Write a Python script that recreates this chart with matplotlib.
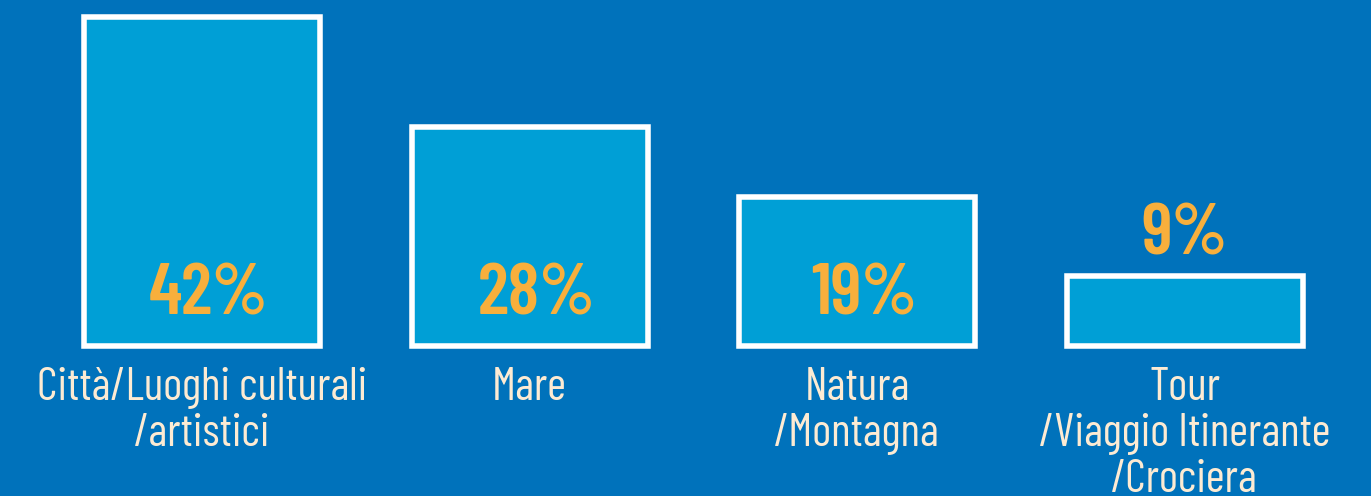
import matplotlib
matplotlib.use("Agg")
import matplotlib.pyplot as plt

categories = ["Città/Luoghi culturali\n/artistici", "Mare", "Natura\n/Montagna",
              "Tour\n/Viaggio Itinerante\n/Crociera"]
values = [42, 28, 19, 9]
value_labels = ["42%", "28%", "19%", "9%"]

bg = "#0072BB"
bar_col = "#009FD6"
num_col = "#F8AF3C"
txt_col = "#FDEBD3"

fam = ["Barlow Condensed", "DejaVu Sans"]

fig = plt.figure(figsize=(13.71, 4.96), dpi=100, facecolor=bg)
ax = fig.add_axes([0, 0, 1, 1])
ax.set_facecolor(bg)

x = range(len(values))
ax.bar(x, values, width=0.72, color=bar_col, edgecolor="white", linewidth=4)
ax.set_xlim(-0.617, 3.569)
ax.set_ylim(-19.16, 44.19)
ax.axis("off")

for i, (v, lab) in enumerate(zip(values, value_labels)):
    if v > 15:
        # label sits inside the bar, near its base
        ax.annotate(lab, (i, 0), xytext=(5, 23), textcoords="offset points",
                    ha="center", va="baseline", fontsize=52, fontweight="semibold",
                    color=num_col, family=fam)
    else:
        ax.annotate(lab, (i, v), xytext=(0, 15), textcoords="offset points",
                    ha="center", va="baseline", fontsize=52, fontweight="semibold",
                    color=num_col, family=fam)
    ax.annotate(categories[i], (i, 0), xytext=(0, -15), textcoords="offset points",
                ha="center", va="top", fontsize=33, color=txt_col, family=fam,
                linespacing=1.13)

fig.savefig("out.png", dpi=100, facecolor=bg)
